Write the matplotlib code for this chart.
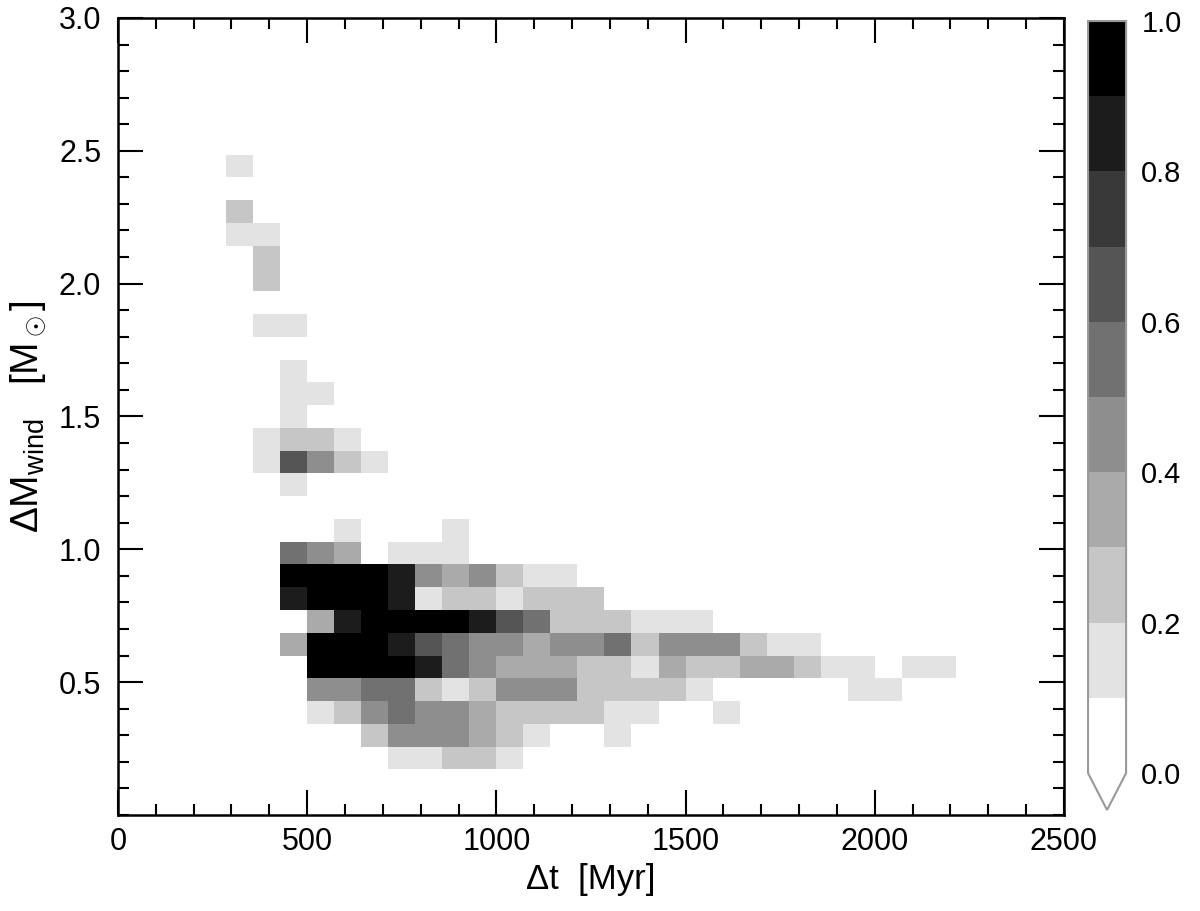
import numpy as np
import matplotlib
matplotlib.use("Agg")
import matplotlib.pyplot as plt
from matplotlib.colors import ListedColormap, BoundaryNorm
from matplotlib.ticker import MultipleLocator, FormatStrFormatter

plt.rcParams['font.family'] = ['Liberation Sans', 'DejaVu Sans']
plt.rcParams['mathtext.fontset'] = 'custom'
plt.rcParams['mathtext.rm'] = 'Liberation Sans'
plt.rcParams['mathtext.it'] = 'Liberation Sans:italic'

# 35 x 35 grid over dt [Myr] and dM_wind [Msun]
t_edges = np.linspace(0, 2500, 36)
m_edges = np.linspace(0, 3, 36)
dt_step = 2500 / 35

# one entry per occupied row: row centre in dM, centre of first dt bin, fractions
dm_rows = [2.443, 2.271, 2.186, 2.100, 2.014, 1.843, 1.671, 1.586, 1.500,
           1.414, 1.329, 1.243, 1.071, 0.986, 0.900, 0.814, 0.729, 0.643,
           0.557, 0.471, 0.386, 0.300, 0.214]
dt_first = [321, 321, 321, 393, 393, 393, 464, 464, 464,
            393, 393, 464, 607, 464, 464, 464, 536, 464,
            536, 536, 536, 679, 750]
frac_rows = [
    [0.15],
    [0.25],
    [0.15, 0.15],
    [0.25],
    [0.25],
    [0.15, 0.15],
    [0.15],
    [0.15, 0.15],
    [0.15],
    [0.15, 0.25, 0.25, 0.15],
    [0.15, 0.65, 0.45, 0.25, 0.15],
    [0.15],
    [0.15, 0, 0, 0, 0.15],
    [0.55, 0.45, 0.35, 0, 0.15, 0.15, 0.15],
    [0.95, 0.95, 0.95, 0.95, 0.85, 0.45, 0.35, 0.45, 0.25, 0.15, 0.15],
    [0.85, 0.95, 0.95, 0.95, 0.85, 0.15, 0.25, 0.25, 0.15, 0.25, 0.25, 0.25],
    [0.35, 0.85, 0.95, 0.95, 0.95, 0.95, 0.85, 0.65, 0.55, 0.25, 0.25, 0.25,
     0.15, 0.15, 0.15],
    [0.35, 0.95, 0.95, 0.95, 0.85, 0.65, 0.55, 0.45, 0.45, 0.35, 0.45, 0.45,
     0.55, 0.25, 0.45, 0.45, 0.45, 0.25, 0.15, 0.15],
    [0.95, 0.95, 0.95, 0.95, 0.85, 0.55, 0.45, 0.35, 0.35, 0.35, 0.25, 0.25,
     0.15, 0.35, 0.25, 0.25, 0.35, 0.35, 0.25, 0.15, 0.15, 0, 0.15, 0.15],
    [0.45, 0.45, 0.55, 0.55, 0.25, 0.15, 0.25, 0.45, 0.45, 0.45, 0.25, 0.25,
     0.25, 0.25, 0.15, 0, 0, 0, 0, 0, 0.15, 0.15],
    [0.15, 0.25, 0.45, 0.55, 0.45, 0.45, 0.35, 0.25, 0.25, 0.25, 0.25, 0.15,
     0.15, 0, 0, 0.15],
    [0.25, 0.45, 0.45, 0.45, 0.35, 0.25, 0.15, 0, 0, 0.15],
    [0.15, 0.15, 0.25, 0.25, 0.15],
]
cbar_ticks = [0.0, 0.2, 0.4, 0.6, 0.8, 1.0]

dt_pts, dm_pts, w = [], [], []
for m, t0, vals in zip(dm_rows, dt_first, frac_rows):
    for k, v in enumerate(vals):
        dt_pts.append(t0 + k * dt_step)
        dm_pts.append(m)
        w.append(v)
H, _, _ = np.histogram2d(dt_pts, dm_pts, bins=[t_edges, m_edges], weights=w)

grays = [str(1 - k / 9) for k in range(10)]
cmap = ListedColormap(grays)
cmap.set_under('white')
norm = BoundaryNorm(np.linspace(0, 1, 11), cmap.N)

fig = plt.figure(figsize=(12, 9.11), dpi=100)
ax = fig.add_axes([0.0983, 0.1054, 0.7883, 0.8749])
mesh = ax.pcolormesh(t_edges, m_edges, H.T, cmap=cmap, norm=norm,
                     edgecolors='none', linewidth=0)

ax.set_xlim(0, 2500)
ax.set_ylim(0, 3)
ax.set_xticks([0, 500, 1000, 1500, 2000, 2500])
ax.set_yticks([0.5, 1.0, 1.5, 2.0, 2.5, 3.0])
ax.xaxis.set_minor_locator(MultipleLocator(100))
ax.yaxis.set_minor_locator(MultipleLocator(0.1))
ax.yaxis.set_major_formatter(FormatStrFormatter('%.1f'))
ax.tick_params(which='both', direction='in', top=True, right=True, width=1.5)
ax.tick_params(which='major', length=18)
ax.tick_params(which='minor', length=8)
ax.tick_params(axis='y', pad=12, labelsize=22)
ax.tick_params(axis='x', pad=9, labelsize=22)
for s in ax.spines.values():
    s.set_linewidth(1.8)

ax.set_xlabel('Δt  [Myr]', fontsize=25, labelpad=4)
ax.set_ylabel(r'$\Delta\mathrm{M}_{\mathrm{wind}}$   [M$_\odot$]',
              fontsize=28, labelpad=8)

cax = fig.add_axes([0.9067, 0.1109, 0.0317, 0.866])
cb = fig.colorbar(mesh, cax=cax, extend='min', extendfrac=0.049,
                  ticks=cbar_ticks)
cb.outline.set_edgecolor('#999999')
cb.outline.set_linewidth(1.5)
cb.ax.minorticks_off()
cb.ax.tick_params(which='both', length=0, pad=11, labelsize=21)
cb.ax.yaxis.set_major_formatter(FormatStrFormatter('%.1f'))

fig.savefig('out.png', dpi=100)
